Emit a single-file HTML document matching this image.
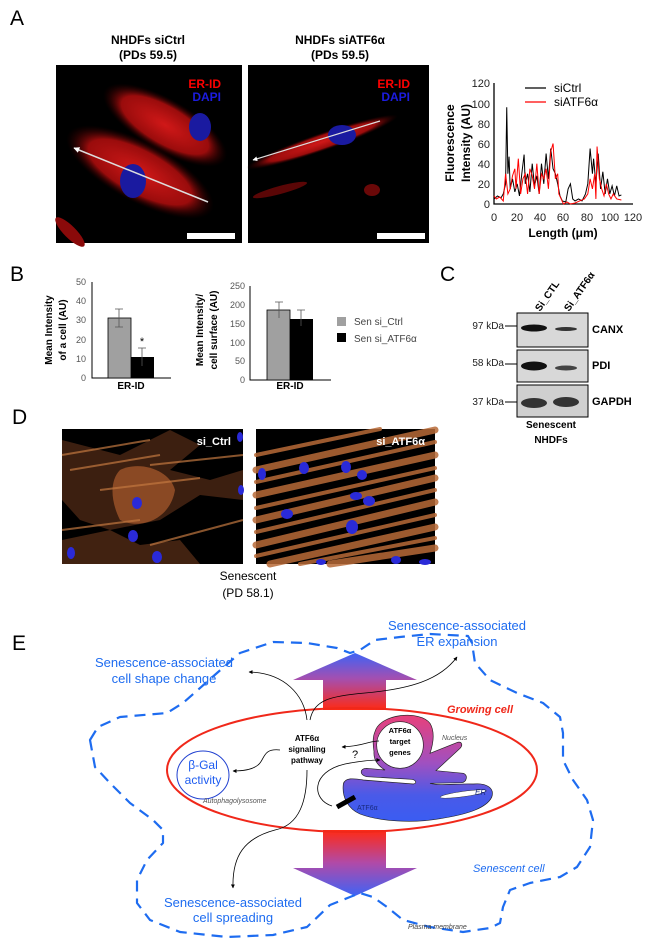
<!DOCTYPE html>
<html><head><meta charset="utf-8"><style>
html,body{margin:0;padding:0;background:#fff;}
svg{display:block;}
text{font-family:"Liberation Sans",Arial,sans-serif;}
</style></head><body>
<svg width="650" height="950" viewBox="0 0 650 950" xmlns="http://www.w3.org/2000/svg">
<defs>
<linearGradient id="upG" x1="0" y1="0" x2="0" y2="1"><stop offset="0" stop-color="#3f63f5"/><stop offset="0.45" stop-color="#a44fb0"/><stop offset="1" stop-color="#ff2a14"/></linearGradient>
<linearGradient id="dnG" x1="0" y1="0" x2="0" y2="1"><stop offset="0" stop-color="#ff2a14"/><stop offset="0.5" stop-color="#b04aa8"/><stop offset="1" stop-color="#3f63f5"/></linearGradient>
<linearGradient id="erG" x1="0" y1="0" x2="0" y2="1"><stop offset="0" stop-color="#e8407a"/><stop offset="0.45" stop-color="#a050c0"/><stop offset="0.75" stop-color="#4a5ae8"/><stop offset="1" stop-color="#3a5cf2"/></linearGradient>
<radialGradient id="redC"><stop offset="0" stop-color="#d01818"/><stop offset="0.7" stop-color="#9a0c0c"/><stop offset="1" stop-color="#300000" stop-opacity="0"/></radialGradient>
<marker id="ah" viewBox="0 0 10 10" refX="9" refY="5" markerWidth="5" markerHeight="5" orient="auto"><path d="M0,0L10,5L0,10z" fill="#000"/></marker>
<marker id="wh" viewBox="0 0 10 10" refX="9" refY="5" markerWidth="4" markerHeight="4" orient="auto"><path d="M0,0L10,5L0,10z" fill="#fff"/></marker>
</defs>

<!-- ===== Panel A ===== -->
<text x="10" y="25" font-size="21">A</text>
<g font-weight="bold" font-size="12" text-anchor="middle">
<text x="148" y="44">NHDFs siCtrl</text><text x="148" y="59">(PDs 59.5)</text>
<text x="340" y="44">NHDFs siATF6α</text><text x="340" y="59">(PDs 59.5)</text>
</g>
<rect x="56" y="65" width="186" height="178" fill="#000"/>
<ellipse cx="165" cy="125" rx="70" ry="26" transform="rotate(30 165 125)" fill="url(#redC)"/>
<ellipse cx="140" cy="172" rx="82" ry="30" transform="rotate(28 140 172)" fill="url(#redC)"/>
<ellipse cx="70" cy="232" rx="20" ry="6" transform="rotate(45 70 232)" fill="#8a0a0a"/>
<ellipse cx="200" cy="127" rx="11" ry="14" fill="#1a1aa0"/>
<ellipse cx="133" cy="181" rx="13" ry="17" fill="#1a1aa0"/>
<line x1="208" y1="202" x2="74" y2="148" stroke="#ddd" stroke-width="1.5" marker-end="url(#wh)"/>
<rect x="187" y="233" width="48" height="6" fill="#fff"/>
<text x="221" y="88" font-size="12" font-weight="bold" fill="#f00" text-anchor="end">ER-ID</text>
<text x="221" y="101" font-size="12" font-weight="bold" fill="#1c1ce0" text-anchor="end">DAPI</text>

<rect x="248" y="65" width="181" height="178" fill="#000"/>
<ellipse cx="322" cy="142" rx="80" ry="9" transform="rotate(-19 322 142)" fill="url(#redC)"/>
<ellipse cx="280" cy="190" rx="28" ry="4" transform="rotate(-15 280 190)" fill="#5a0606"/>
<ellipse cx="372" cy="190" rx="8" ry="6" fill="#6a0808"/>
<ellipse cx="342" cy="135" rx="14" ry="10" fill="#1a1aa0"/>
<line x1="380" y1="121" x2="253" y2="160" stroke="#ddd" stroke-width="1.2" marker-end="url(#wh)"/>
<rect x="377" y="233" width="48" height="6" fill="#fff"/>
<text x="410" y="88" font-size="12" font-weight="bold" fill="#f00" text-anchor="end">ER-ID</text>
<text x="410" y="101" font-size="12" font-weight="bold" fill="#1c1ce0" text-anchor="end">DAPI</text>

<!-- chart A -->
<g stroke="#000" stroke-width="1.3" fill="none"><path d="M494,83V204H633"/></g>
<g font-size="11" text-anchor="end" fill="#222">
<text x="490" y="87">120</text><text x="490" y="108">100</text><text x="490" y="128">80</text><text x="490" y="148">60</text><text x="490" y="168">40</text><text x="490" y="188">20</text><text x="490" y="208">0</text>
</g>
<g font-size="11" text-anchor="middle" fill="#222">
<text x="494" y="221">0</text><text x="517" y="221">20</text><text x="540" y="221">40</text><text x="563" y="221">60</text><text x="587" y="221">80</text><text x="610" y="221">100</text><text x="633" y="221">120</text>
</g>
<text x="563" y="237" font-size="12" font-weight="bold" text-anchor="middle">Length (μm)</text>
<text transform="translate(454,143) rotate(-90)" font-size="12" font-weight="bold" text-anchor="middle">Fluorescence</text>
<text transform="translate(470,143) rotate(-90)" font-size="12" font-weight="bold" text-anchor="middle">Intensity (AU)</text>
<g transform="translate(494,204) scale(1.158,-1.008)" fill="none">
<polyline vector-effect="non-scaling-stroke" stroke="#000" stroke-width="1" points="0,5 3,8 6,6 8,10 10,20 11,96 12,30 13,47 14,15 16,25 18,12 20,20 22,8 24,30 26,49 27,20 29,30 31,12 33,40 35,18 37,28 39,10 41,40 43,20 45,50 47,25 49,55 51,35 53,30 55,20 57,8 59,3 62,2 64,15 66,20 68,5 70,3 73,5 76,3 79,10 81,20 83,55 85,30 86,45 88,20 90,50 92,15 94,32 96,10 98,25 100,10 102,18 104,8 106,18 108,8 110,9"/>
<polyline vector-effect="non-scaling-stroke" stroke="#f00" stroke-width="1" points="0,8 2,5 5,7 8,3 10,30 11,20 12,10 14,15 16,28 18,35 19,15 21,45 23,10 25,25 27,30 29,10 31,35 33,28 35,15 37,40 39,10 41,30 43,25 45,35 47,15 49,52 51,60 53,25 55,30 56,10 58,5 60,0 63,2 66,0 70,1 74,3 78,5 81,10 83,25 85,15 87,30 88,5 89,57 91,25 93,15 95,8 97,20 99,10 101,5 103,10 106,5 110,4"/>
</g>
<line x1="525" y1="88" x2="546" y2="88" stroke="#000" stroke-width="1.3"/>
<line x1="525" y1="102" x2="546" y2="102" stroke="#f00" stroke-width="1.3"/>
<text x="554" y="92" font-size="12">siCtrl</text>
<text x="554" y="106" font-size="12">siATF6α</text>

<!-- ===== Panel B ===== -->
<text x="10" y="281" font-size="21">B</text>
<g font-size="9" fill="#555" text-anchor="end">
<text x="86" y="285">50</text><text x="86" y="304">40</text><text x="86" y="323">30</text><text x="86" y="343">20</text><text x="86" y="362">10</text><text x="86" y="381">0</text>
</g>
<path d="M92,282V378H171" stroke="#000" stroke-width="1" fill="none"/>
<rect x="108" y="318" width="23" height="60" fill="#a0a0a0" stroke="#000" stroke-width="0.8"/>
<rect x="131" y="357" width="23" height="21" fill="#000"/>
<path d="M119,309V327M115,309H123M115,327H123M142,348V366M138,348H146" stroke="#555" stroke-width="0.8"/>
<text x="142" y="345" font-size="11" text-anchor="middle">*</text>
<text x="131" y="389" font-size="10" font-weight="bold" text-anchor="middle">ER-ID</text>
<text transform="translate(52,330) rotate(-90)" font-size="10" font-weight="bold" text-anchor="middle">Mean Intensity</text>
<text transform="translate(66,330) rotate(-90)" font-size="10" font-weight="bold" text-anchor="middle">of a cell (AU)</text>

<g font-size="9" fill="#555" text-anchor="end">
<text x="245" y="289">250</text><text x="245" y="308">200</text><text x="245" y="327">150</text><text x="245" y="346">100</text><text x="245" y="364">50</text><text x="245" y="383">0</text>
</g>
<path d="M250,286V380H331" stroke="#000" stroke-width="1" fill="none"/>
<rect x="267" y="310" width="23" height="70" fill="#a0a0a0" stroke="#000" stroke-width="0.8"/>
<rect x="290" y="319" width="23" height="61" fill="#000"/>
<path d="M279,302V318M275,302H283M301,310V326M297,310H305" stroke="#555" stroke-width="0.8"/>
<text x="290" y="389" font-size="10" font-weight="bold" text-anchor="middle">ER-ID</text>
<text transform="translate(203,330) rotate(-90)" font-size="10" font-weight="bold" text-anchor="middle">Mean Intensity/</text>
<text transform="translate(217,330) rotate(-90)" font-size="10" font-weight="bold" text-anchor="middle">cell surface (AU)</text>

<rect x="337" y="317" width="9" height="9" fill="#a0a0a0"/>
<rect x="337" y="333" width="9" height="9" fill="#000"/>
<text x="354" y="325" font-size="10" fill="#444">Sen si_Ctrl</text>
<text x="354" y="342" font-size="10" fill="#444">Sen si_ATF6α</text>

<!-- ===== Panel C ===== -->
<text x="440" y="281" font-size="21">C</text>
<text transform="translate(540,312) rotate(-55)" font-size="10" font-weight="bold">Si_CTL</text>
<text transform="translate(569,312) rotate(-55)" font-size="10" font-weight="bold">Si_ATF6α</text>
<rect x="517" y="313" width="71" height="34" fill="#d8d8d8" stroke="#000" stroke-width="1"/>
<rect x="517" y="350" width="71" height="32" fill="#d8d8d8" stroke="#000" stroke-width="1"/>
<rect x="517" y="385" width="71" height="32" fill="#cfcfcf" stroke="#000" stroke-width="1"/>
<ellipse cx="534" cy="328" rx="13" ry="3.5" fill="#111"/>
<ellipse cx="566" cy="329" rx="11" ry="2" fill="#333"/>
<ellipse cx="534" cy="366" rx="13" ry="4.5" fill="#111"/>
<ellipse cx="566" cy="368" rx="11" ry="2.5" fill="#444"/>
<ellipse cx="534" cy="403" rx="13" ry="5" fill="#333"/>
<ellipse cx="566" cy="402" rx="13" ry="5" fill="#333"/>
<g font-size="10" fill="#222" text-anchor="end">
<text x="504" y="329">97 kDa</text><text x="504" y="366">58 kDa</text><text x="504" y="405">37 kDa</text>
</g>
<path d="M505,326H517M505,364H517M505,402H517" stroke="#000" stroke-width="1"/>
<g font-size="11" font-weight="bold">
<text x="592" y="333">CANX</text><text x="592" y="369">PDI</text><text x="592" y="405">GAPDH</text>
</g>
<text x="551" y="428" font-size="10" font-weight="bold" text-anchor="middle">Senescent</text>
<text x="551" y="443" font-size="10" font-weight="bold" text-anchor="middle">NHDFs</text>

<!-- ===== Panel D ===== -->
<text x="12" y="424" font-size="21">D</text>
<rect x="62" y="429" width="181" height="135" fill="#000"/>
<g fill="#7a4020" opacity="0.9">
<path d="M62,440 L120,455 L170,430 L200,445 L170,470 L210,480 L243,470 L243,500 L200,495 L160,520 L110,530 L80,520 L62,500 Z" opacity="0.55"/>
<path d="M120,470 C140,460 170,470 175,490 C170,520 140,530 120,520 C110,500 110,480 120,470Z" fill="#9a5228"/>
<path d="M62,540 L110,530 L140,545 L180,540 L200,564 L62,564Z" opacity="0.6"/>
</g>
<g stroke="#c27840" stroke-width="2" opacity="0.7" fill="none">
<path d="M62,455 L150,440 M70,470 L160,455 M150,465 L243,455 M100,490 L200,478 M62,530 L140,520 M150,545 L243,520"/>
</g>
<g fill="#2a2ad8">
<ellipse cx="137" cy="503" rx="5" ry="6"/><ellipse cx="133" cy="536" rx="5" ry="6"/><ellipse cx="71" cy="553" rx="4" ry="6"/><ellipse cx="157" cy="557" rx="5" ry="6"/><ellipse cx="241" cy="490" rx="3" ry="5"/><ellipse cx="240" cy="437" rx="3" ry="5"/>
</g>
<text x="231" y="445" font-size="11" font-weight="bold" fill="#fff" text-anchor="end">si_Ctrl</text>

<rect x="256" y="429" width="179" height="135" fill="#000"/>
<g stroke="#b86a38" opacity="0.85" fill="none" stroke-linecap="round">
<path stroke-width="7" d="M256,470 L435,430 M256,495 L435,455 M256,520 L435,478 M256,545 L435,502 M270,564 L435,527 M330,564 L435,548"/>
<path stroke-width="4" d="M256,482 L435,442 M256,508 L435,468 M256,532 L435,490 M256,556 L435,515 M300,564 L435,538 M256,455 L380,429"/>
</g>
<g fill="#2a2ad8">
<ellipse cx="262" cy="474" rx="4" ry="6"/><ellipse cx="304" cy="468" rx="5" ry="6"/><ellipse cx="346" cy="467" rx="5" ry="6"/><ellipse cx="362" cy="475" rx="5" ry="5"/><ellipse cx="356" cy="496" rx="6" ry="4"/><ellipse cx="369" cy="501" rx="6" ry="5"/><ellipse cx="287" cy="514" rx="6" ry="5"/><ellipse cx="352" cy="527" rx="6" ry="7"/><ellipse cx="425" cy="562" rx="6" ry="3"/><ellipse cx="396" cy="560" rx="5" ry="4"/><ellipse cx="321" cy="562" rx="5" ry="3"/>
</g>
<text x="425" y="445" font-size="11" font-weight="bold" fill="#fff" text-anchor="end">si_ATF6α</text>
<text x="248" y="580" font-size="12" text-anchor="middle">Senescent</text>
<text x="248" y="597" font-size="12" text-anchor="middle">(PD 58.1)</text>

<!-- ===== Panel E ===== -->
<text x="12" y="650" font-size="21">E</text>
<path d="M355,653 L417,680 L386,680 L386,710 L323,710 L323,680 L293,680 Z" fill="url(#upG)"/>
<path d="M323,830 L386,830 L386,868 L417,868 L355,896 L293,868 L323,868 Z" fill="url(#dnG)"/>
<path d="M90,740 L98,727 L120,717 L167,713 L183,703 L217,673 L240,653 L273,642 L307,643 L337,648 L350,653 L360,650 L375,640 L400,637 L430,634 L468,636 L472,643 L475,663 L490,680 L517,693 L543,703 L560,717 L563,733 L563,760 L573,780 L587,800 L593,820 L590,847 L577,867 L560,877 L530,883 L510,890 L503,907 L500,923 L490,928 L463,932 L430,927 L403,920 L387,907 L373,897 L360,893 L350,897 L330,905 L307,927 L273,935 L227,937 L180,932 L150,920 L137,903 L137,880 L147,860 L163,843 L163,830 L153,820 L130,803 L110,783 L95,767 Z" fill="none" stroke="#1e6cf0" stroke-width="2.2" stroke-dasharray="11,7" stroke-linejoin="round"/>
<ellipse cx="352" cy="770" rx="185" ry="62" fill="none" stroke="#f0281a" stroke-width="2"/>
<!-- ER + nucleus -->
<g transform="translate(330,700) scale(0.33333)">
<path d="M135,95 C150,40 270,30 300,70 C315,95 310,130 300,160 L380,128 C395,122 400,135 390,145 L318,212 L400,220 C415,226 410,246 395,248 L300,250 C330,258 380,250 430,252 C470,248 495,265 485,292 C470,322 420,342 330,356 C250,370 150,365 90,342 C55,327 35,292 40,252 C45,232 70,235 100,240 L250,252 C262,250 258,240 245,238 L110,230 C88,226 88,205 110,205 L165,210 C145,198 130,180 132,155 C128,130 128,110 135,95 Z" fill="url(#erG)" stroke="#222" stroke-width="2"/>
<ellipse cx="400" cy="282" rx="70" ry="8" transform="rotate(-8 400 282)" fill="#fff" stroke="#333" stroke-width="1.5"/>
<circle cx="210" cy="135" r="70" fill="#fff" stroke="#222" stroke-width="2"/>
</g>
<text x="400" y="733" font-size="7.5" font-weight="bold" text-anchor="middle">ATF6α</text>
<text x="400" y="744" font-size="7.5" font-weight="bold" text-anchor="middle">target</text>
<text x="400" y="755" font-size="7.5" font-weight="bold" text-anchor="middle">genes</text>
<text x="442" y="740" font-size="7" font-style="italic" fill="#555">Nucleus</text>
<text x="475" y="795" font-size="8" font-style="italic" fill="#1a2a80">ER</text>
<text x="357" y="810" font-size="7" fill="#1a2a80">ATF6α</text>
<line x1="337" y1="807" x2="355" y2="797" stroke="#000" stroke-width="5"/>
<text x="352" y="758" font-size="11">?</text>
<!-- beta gal -->
<ellipse cx="203" cy="775" rx="26" ry="24" fill="none" stroke="#2040d0" stroke-width="1"/>
<text x="203" y="769" font-size="12" fill="#1e5cf0" text-anchor="middle">β-Gal</text>
<text x="203" y="784" font-size="12" fill="#1e5cf0" text-anchor="middle">activity</text>
<text x="203" y="803" font-size="7" font-style="italic" fill="#555">Autophagolysosome</text>
<text x="307" y="741" font-size="8" font-weight="bold" text-anchor="middle">ATF6α</text>
<text x="307" y="752" font-size="8" font-weight="bold" text-anchor="middle">signalling</text>
<text x="307" y="763" font-size="8" font-weight="bold" text-anchor="middle">pathway</text>
<g fill="none" stroke="#000" stroke-width="0.8" marker-end="url(#ah)">
<path d="M307,720 C304,695 285,673 249,672"/>
<path d="M310,720 C314,700 330,696 365,693 C410,689 440,680 457,657"/>
<path d="M280,750 C262,748 265,760 258,765 C252,770 243,771 233,771"/>
<path d="M307,770 C307,800 300,825 275,830 C245,838 232,855 233,888"/>
<path d="M379,741 C368,741 365,746 342,747"/>
<path d="M332,806 C312,800 310,772 345,764 C360,761 372,760 380,760"/>
</g>
<g font-size="13" fill="#1e6cf0" text-anchor="middle">
<text x="164" y="667">Senescence-associated</text><text x="164" y="683">cell shape change</text>
<text x="457" y="630">Senescence-associated</text><text x="457" y="646">ER expansion</text>
<text x="233" y="907">Senescence-associated</text><text x="233" y="922">cell spreading</text>
</g>
<text x="447" y="713" font-size="11" font-weight="bold" font-style="italic" fill="#f0281a">Growing cell</text>
<text x="473" y="872" font-size="11" font-style="italic" fill="#1e6cf0">Senescent cell</text>
<text x="408" y="929" font-size="7" font-style="italic" fill="#444">Plasma membrane</text>
</svg>
</body></html>
